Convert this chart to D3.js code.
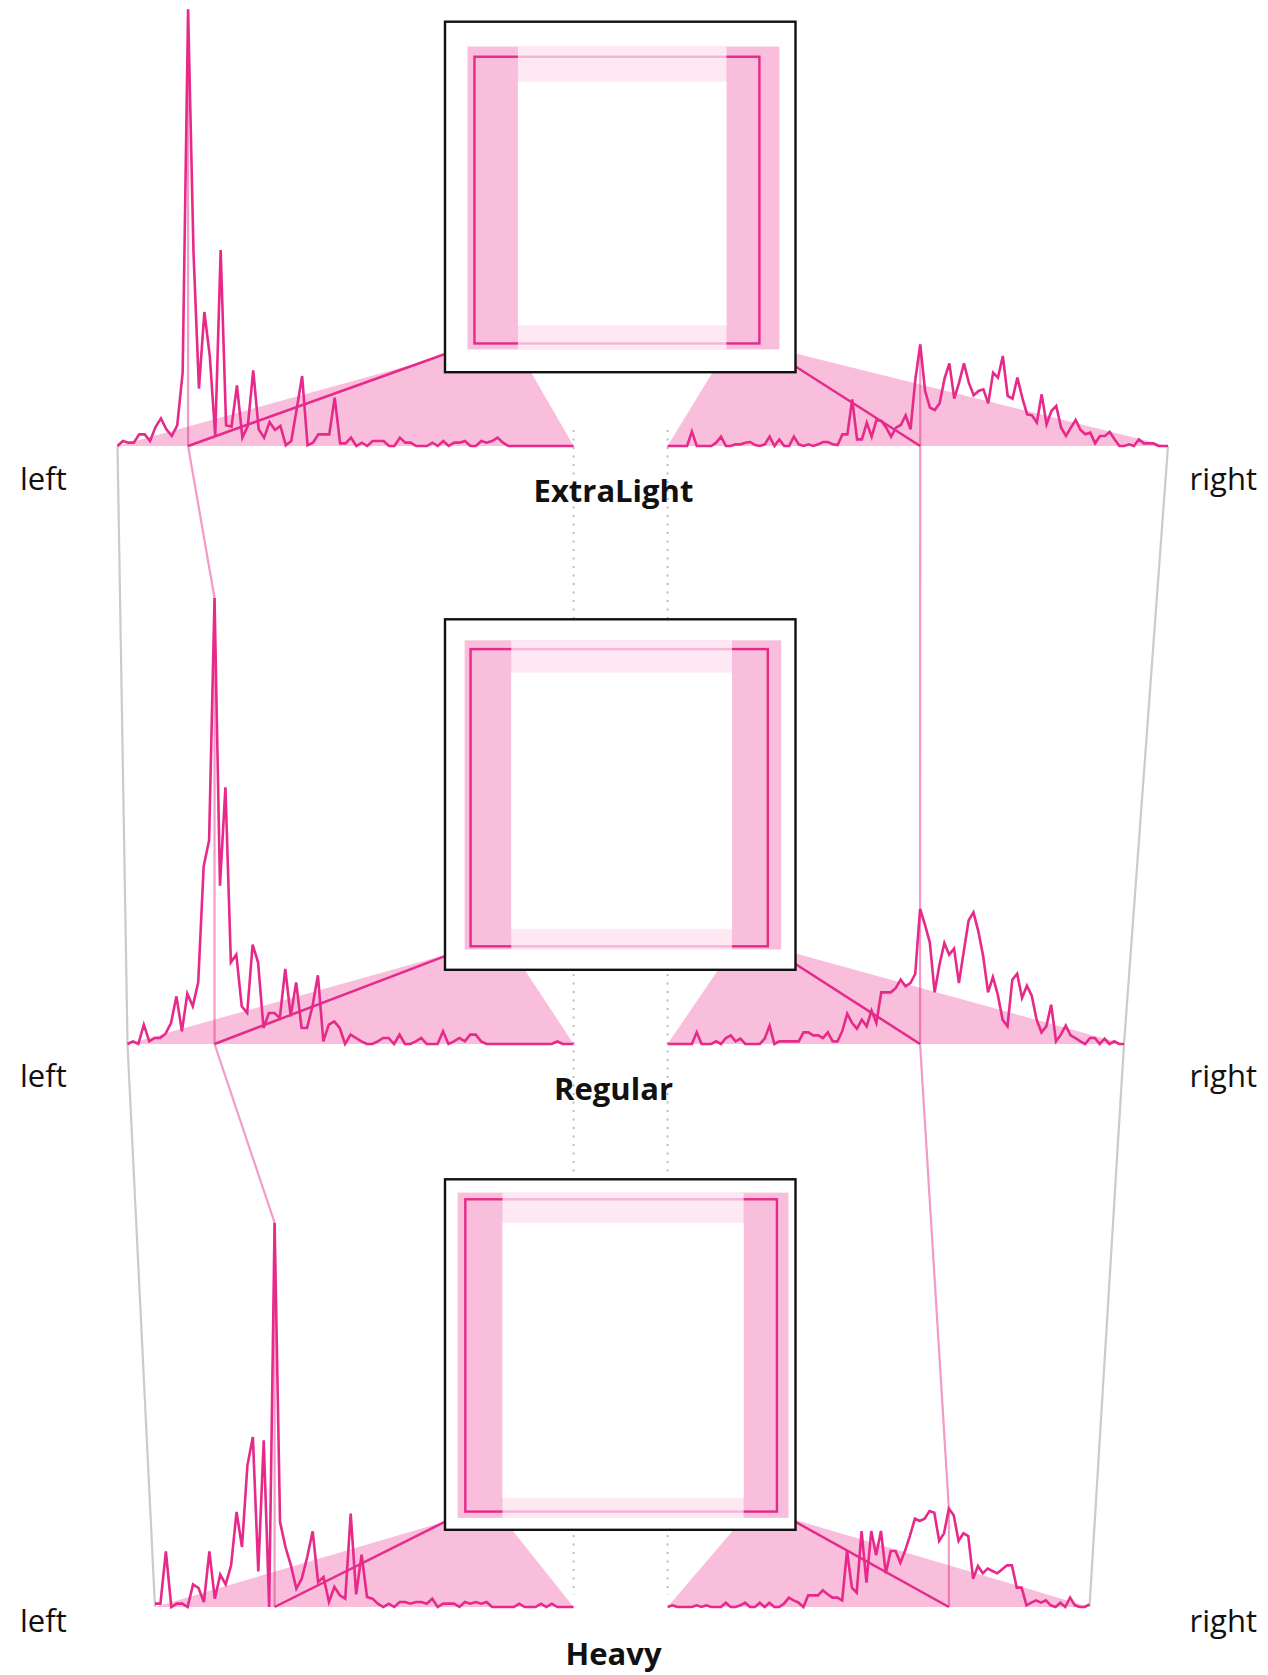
<!DOCTYPE html>
<html><head><meta charset="utf-8">
<script src="https://cdn.jsdelivr.net/npm/d3@7"></script>
<style>body{margin:0;background:#fff} svg{display:block}</style>
</head><body>
<svg id="chart" width="1268" height="1675"></svg>
<script>
// ---------------- data ----------------
const weights = ["ExtraLight", "Regular", "Heavy"];
const sideLabels = ["left", "right"];

// histogram counts (arbitrary units), outer edge -> glyph edge
const leftExtraLight = [0,1.5,1,1,3.5,3.5,1.5,5.7,8.3,5,3,6.2,22,131,58,17.2,40.2,27,3,58.8,6.2,5.8,18.2,2.5,6,22.7,5,2.5,7.2,4.8,6,0.2,1.5,11,21,0.2,1,3.5,3.5,3.5,14.5,0.8,0.8,2.5,0,1,0,1.5,1.5,1.5,0,0,2.5,1,1,0,0,0,1,0,1.5,0,1,1,1.5,0,0,1.5,1,1.5,2.5,1,0,0,0,0,0,0,0,0,0,0,0,0,0];
const leftRegular = [0,0.8,0,5.8,0.8,1.8,1.8,3.1,6.3,14.3,3.8,15.1,11.3,18.5,53.3,61.1,133.8,47.5,77,24.5,26.8,11.3,9.3,29.8,24.5,4.8,9.3,9.3,7.8,22.5,8.3,18.5,4.8,4.8,11.3,20.6,0.8,5.8,6.8,4.8,0,2.8,1.8,0.8,0,0,0.8,1.8,1.8,0,2.8,0,0,0.8,1.8,0,0,0,3.8,0,0.8,1.8,0.8,2.8,2.8,0.8,0,0,0,0,0,0,0,0,0,0,0,0,0,0.8,0,0,0];
const leftHeavy = [1,1,16.7,0,1,1,0,6.8,5.7,1.5,16.7,2.5,9.7,6.8,12.5,28.5,18,42.5,51,10.7,50,0,115.3,25.5,18,12.5,5.5,8.5,15,22.7,7.5,9,1.5,6,3.5,2.5,28,3.8,15.7,3,2.5,1,0,1,0,1.5,1.5,1,1.5,1.5,1,2.5,0,1,1,1,0,1.5,1,1.5,1,1.5,0,0,0,0,0,1,0,0,0,1,0,1,0,0,0,0];

// glyph edge -> outer edge
const rightExtraLight = [0,0,0,0,0,4.3,0,0,0,0,1,2.8,0,0,0.5,0.5,1,1.2,0.3,0,0.5,2.8,0,2,0,0,2.8,0.5,0,0.5,0,0.5,1.2,1.2,0.5,0.3,3.5,3.5,14,2,2,7,2.8,7.8,7.5,5.5,2.8,5.5,6.3,9.2,5,20,30.5,16.5,11.5,10.8,12.8,20.2,24.8,14.2,19,24.8,19,15.2,16.5,17,12.8,22,20.5,27,15,14.2,20.5,14.5,9.5,9.2,7,15.5,6.5,10.5,12,5.5,3,5.5,7.8,4.8,3.5,4,0.8,3,3,4.2,2,0,0,0.5,0,2,0.8,0.8,0.8,0,0,0];
const rightRegular = [0,0,0,0,0,0,3.5,0,0,0,0.8,0,1.8,2.6,0.8,1.6,0,0,0,0,1.6,5.5,0,0.8,0.8,0.8,0.8,0.8,3.5,3.5,2.6,2.6,1.8,3.5,0.8,0.8,4,9.1,6.3,4.6,7.3,5.3,10,6.3,15.5,15.5,15.5,16.8,19.3,17.3,18.3,21,40.5,35.8,30.5,15.5,23.8,30.3,26.8,28.6,18.3,27.8,37.1,39.5,33.8,26.3,15.5,20.1,14.8,7.3,5.3,19.3,21.1,13.8,17.5,14.5,7.3,3.5,5.3,11.8,0.8,2.8,5.5,2.6,1.8,0.8,0,1.8,1.8,0,1.6,0,0.8,0,0];
const rightHeavy = [0,0.5,0,0,0,0,0.5,0,0.5,0,0,0,1.3,0,0,0.5,1.3,0,0,1.3,0,1.3,0,0,1,2.8,2,1.3,0,3.5,3.5,3.5,5,3.8,2.8,2.8,2,16.8,5.8,4.3,22.8,7.3,22.8,15.5,22.8,10.1,16.8,16.8,13.3,17,21.5,26.5,25.8,26.5,28.8,28.3,19.8,22.1,29.5,27.5,19.8,22.1,21.3,8.5,12.3,10.1,11.5,10.8,10.1,11.3,12.5,12.5,5.8,5.8,0.5,1.3,2,1.3,2,0.5,0,1.3,0,2.8,0.5,0,0,0.8];

const leftHistograms = [leftExtraLight, leftRegular, leftHeavy];
const rightHistograms = [rightExtraLight, rightRegular, rightHeavy];

// sidebearing bands inside the em box (units of 1/1000 em)
const bandOuterLeft   = [64, 56, 36];
const bandInnerLeft   = [208, 189, 164];
const bandInnerRight  = [803, 819, 852];
const bandOuterRight  = [954, 959, 980];
const bandOuterTop    = [71, 60, 38];
const bandInnerTop    = [171, 152, 124];
const bandInnerBottom = [866, 883, 909];
const bandOuterBottom = [935, 942, 966];
// most common glyph outline
const glyphLeft   = [84, 73, 58];
const glyphRight  = [897, 921, 947];
const glyphTop    = [100, 85, 57];
const glyphBottom = [918, 933, 948];

// ---------------- layout ----------------
const layout = {
  baseY: [446, 1044, 1607],
  boxTop: [21.7, 619.3, 1179.3],
  boxLeft: 445, boxSize: 350.5,
  histLeftStart: [117.5, 127.5, 155],
  histLeftEnd: 573.6,
  histRightStart: 667.6,
  histRightEnd: [1168, 1124, 1089.5],
  sideLabelY: [490, 1087, 1632],
  titleY: [502, 1100, 1665],
  titleX: 613.5,
  yMax: 135, yPx: 450
};
const COL = {
  mag: "#e7298a",
  band: "rgba(231,41,138,0.3)",
  conn: "#f49ac6",
  gray: "#cbcbcb",
  dots: "#bdbdbd"
};

const svg = d3.select("#chart");
const gDots = svg.append("g");
const gGray = svg.append("g");
const gConn = svg.append("g");
const gFill = svg.append("g");
const gDiag = svg.append("g");
const gHist = svg.append("g");
const gBox = svg.append("g");
const gText = svg.append("g");

// dotted guides at histogram inner ends
[layout.histLeftEnd, layout.histRightStart].forEach(x => {
  gDots.append("line")
    .attr("x1", x).attr("x2", x)
    .attr("y1", layout.baseY[0] - 16).attr("y2", layout.baseY[2] - 12)
    .attr("stroke", COL.dots).attr("stroke-width", 2)
    .attr("stroke-dasharray", "2 6.5");
});

const line = d3.line();
const panels = weights.map((w, p) => {
  const L = leftHistograms[p], R = rightHistograms[p];
  const y = d3.scaleLinear().domain([0, layout.yMax]).range([layout.baseY[p], layout.baseY[p] - layout.yPx]);
  const xl = d3.scaleLinear().domain([0, L.length - 1]).range([layout.histLeftStart[p], layout.histLeftEnd]);
  const xr = d3.scaleLinear().domain([0, R.length - 1]).range([layout.histRightStart, layout.histRightEnd[p]]);
  const bx = d3.scaleLinear().domain([0, 1000]).range([layout.boxLeft, layout.boxLeft + layout.boxSize]);
  const by = d3.scaleLinear().domain([0, 1000]).range([layout.boxTop[p], layout.boxTop[p] + layout.boxSize]);
  const iL = d3.maxIndex(L), iR = d3.maxIndex(R);
  return {w, p, L, R, y, xl, xr, bx, by,
    modeL: xl(iL), peakL: y(L[iL]), modeR: xr(iR), peakR: y(R[iR]),
    startL: xl(0), endR: xr(R.length - 1), base: y(0)};
});

// gray extent connectors and light mode connectors
panels.forEach((P, p) => {
  if (p < panels.length - 1) {
    const N = panels[p + 1];
    gGray.append("path").attr("d", line([[P.startL, P.base], [N.startL, N.base]]))
      .attr("stroke", COL.gray).attr("stroke-width", 2.2).attr("fill", "none");
    gGray.append("path").attr("d", line([[P.endR, P.base], [N.endR, N.base]]))
      .attr("stroke", COL.gray).attr("stroke-width", 2.2).attr("fill", "none");
    gConn.append("path").attr("d", line([[P.modeL, P.base], [N.modeL, N.peakL]]))
      .attr("stroke", COL.conn).attr("stroke-width", 2.2).attr("fill", "none");
    gConn.append("path").attr("d", line([[P.modeR, P.base], [N.modeR, N.peakR]]))
      .attr("stroke", COL.conn).attr("stroke-width", 2.2).attr("fill", "none");
  }
  gConn.append("path").attr("d", line([[P.modeL, P.peakL], [P.modeL, P.base]]))
    .attr("stroke", COL.conn).attr("stroke-width", 2.2).attr("fill", "none");
  gConn.append("path").attr("d", line([[P.modeR, P.peakR], [P.modeR, P.base]]))
    .attr("stroke", COL.conn).attr("stroke-width", 2.2).attr("fill", "none");
});

panels.forEach(P => {
  const {p, bx, by, y, xl, xr, L, R} = P;
  const bot = by(bandOuterBottom[p]);
  // projection fills
  gFill.append("path")
    .attr("d", line([[xl(0), y(0)], [bx(bandOuterLeft[p]), bot], [bx(bandInnerLeft[p]), bot], [xl(L.length - 1), y(0)]]) + "Z")
    .attr("fill", COL.band);
  gFill.append("path")
    .attr("d", line([[xr(0), y(0)], [bx(bandInnerRight[p]), bot], [bx(bandOuterRight[p]), bot], [xr(R.length - 1), y(0)]]) + "Z")
    .attr("fill", COL.band);
  // mode -> glyph corner
  gDiag.append("path").attr("d", line([[P.modeL, P.base], [bx(glyphLeft[p]), by(glyphBottom[p])]]))
    .attr("stroke", COL.mag).attr("stroke-width", 2.5).attr("fill", "none");
  gDiag.append("path").attr("d", line([[P.modeR, P.base], [bx(glyphRight[p]), by(glyphBottom[p])]]))
    .attr("stroke", COL.mag).attr("stroke-width", 2.5).attr("fill", "none");
  // histograms
  const hl = d3.line().x((d, i) => xl(i)).y(d => y(d));
  const hr = d3.line().x((d, i) => xr(i)).y(d => y(d));
  gHist.append("path").attr("d", hl(L)).attr("stroke", COL.mag).attr("stroke-width", 2.6).attr("fill", "none");
  gHist.append("path").attr("d", hr(R)).attr("stroke", COL.mag).attr("stroke-width", 2.6).attr("fill", "none");

  // em box
  const g = gBox.append("g");
  g.append("rect").attr("x", bx(0)).attr("y", by(0))
    .attr("width", bx(1000) - bx(0)).attr("height", by(1000) - by(0))
    .attr("fill", "#fff").attr("stroke", "#111").attr("stroke-width", 2.4);
  g.append("rect").attr("x", bx(bandOuterLeft[p])).attr("y", by(bandOuterTop[p]))
    .attr("width", bx(bandOuterRight[p]) - bx(bandOuterLeft[p]))
    .attr("height", by(bandOuterBottom[p]) - by(bandOuterTop[p]))
    .attr("fill", COL.band);
  g.append("rect").attr("x", bx(glyphLeft[p])).attr("y", by(glyphTop[p]))
    .attr("width", bx(glyphRight[p]) - bx(glyphLeft[p]))
    .attr("height", by(glyphBottom[p]) - by(glyphTop[p]))
    .attr("fill", "none").attr("stroke", COL.mag).attr("stroke-width", 2.4);
  g.append("rect").attr("x", bx(bandInnerLeft[p])).attr("y", by(bandOuterTop[p]))
    .attr("width", bx(bandInnerRight[p]) - bx(bandInnerLeft[p]))
    .attr("height", by(bandOuterBottom[p]) - by(bandOuterTop[p]))
    .attr("fill", "#fff").attr("fill-opacity", 0.65);
  g.append("rect").attr("x", bx(bandInnerLeft[p])).attr("y", by(bandInnerTop[p]))
    .attr("width", bx(bandInnerRight[p]) - bx(bandInnerLeft[p]))
    .attr("height", by(bandInnerBottom[p]) - by(bandInnerTop[p]))
    .attr("fill", "#fff");

  // labels
  gText.append("text").text(sideLabels[0])
    .attr("x", 20).attr("y", layout.sideLabelY[p])
    .attr("font-family", "'Open Sans', sans-serif").attr("font-size", 31).attr("fill", "#111");
  gText.append("text").text(sideLabels[1])
    .attr("x", 1257).attr("y", layout.sideLabelY[p]).attr("text-anchor", "end")
    .attr("font-family", "'Open Sans', sans-serif").attr("font-size", 31).attr("fill", "#111");
  gText.append("text").text(P.w)
    .attr("x", layout.titleX).attr("y", layout.titleY[p]).attr("text-anchor", "middle")
    .attr("font-family", "'Open Sans', sans-serif").attr("font-weight", 700)
    .attr("font-size", 31).attr("fill", "#111");
});
</script>
</body></html>
